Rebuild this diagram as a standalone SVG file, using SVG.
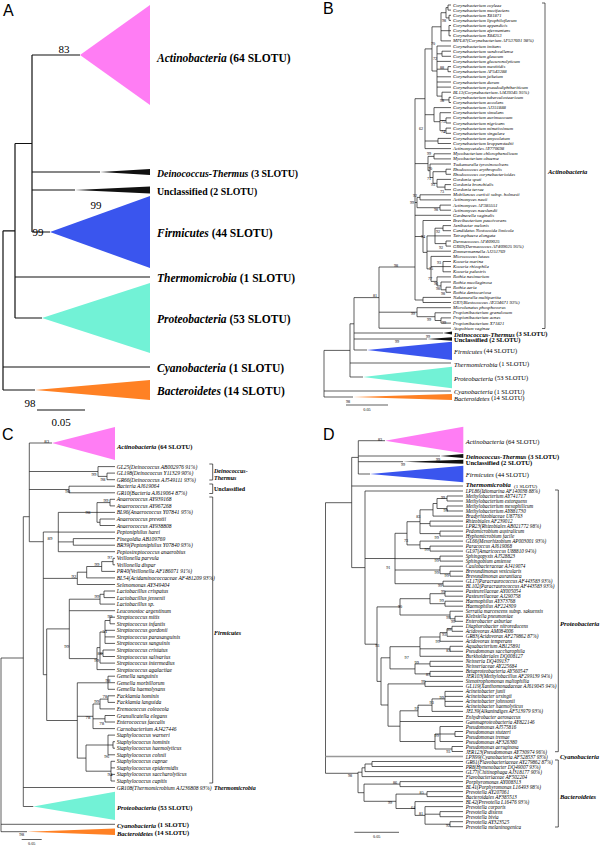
<svg xmlns="http://www.w3.org/2000/svg" width="600" height="845" viewBox="0 0 600 845">
<style>
.ln{fill:none;stroke:#1a1a1a;stroke-width:.7}
.lnA{fill:none;stroke:#111;stroke-width:1.2}
.tb{font-family:"Liberation Serif",serif;font-style:italic;font-size:4.7px;dominant-baseline:central}
.tc{font-family:"Liberation Serif",serif;font-style:italic;font-size:5.5px;dominant-baseline:central}
.td{font-family:"Liberation Serif",serif;font-style:italic;font-size:5.15px;dominant-baseline:central}
.bs{font-family:"Liberation Serif",serif;font-size:4.2px;text-anchor:middle;dominant-baseline:central}
.bsc{font-family:"Liberation Serif",serif;font-size:4.8px;text-anchor:middle;dominant-baseline:central}
.bsA{font-family:"Liberation Serif",serif;font-size:11px;text-anchor:middle;dominant-baseline:central}
.gl{font-family:"Liberation Serif",serif;font-weight:bold;font-size:6.5px;dominant-baseline:central}
.gA{font-family:"Liberation Serif",serif;font-weight:bold;font-size:11.5px;dominant-baseline:central}
.gA2{font-family:"Liberation Serif",serif;font-weight:bold;font-size:9.8px;dominant-baseline:central}
.i{font-style:italic}
.n{font-weight:normal}
.pl{font-family:"Liberation Sans",Arial,sans-serif;font-size:16px}
.sc{font-family:"Liberation Serif",serif;font-size:4.2px;text-anchor:middle}
.pink{fill:#FF7DF4}.blue{fill:#3A55EE}.teal{fill:#72F2D6}.orange{fill:#FF8124}.blk{fill:#111}
</style>
<rect width="600" height="845" fill="#fff"/>

<!-- ================= PANEL A ================= -->
<g id="panelA">
<text class="pl" x="3" y="16">A</text>
<g id="A-connectors">
<path class="lnA" d="M32 55V232M32 55H80M32 172H100M32 190H75M32 232H50M15 143.5V318M15 143.5H32M15 277H150M15 318H42M3 230.8V390M3 230.8H15M3 367H150M3 390H35M37 410H85"/>
</g>
<g id="A-actinobacteria"><polygon class="pink" points="80,55 150,5 150,105"/><text class="bsA" x="64" y="49">83</text><text class="gA" x="157" y="58"><tspan class="i">Actinobacteria</tspan> (64 SLOTU)</text></g>
<g id="A-deinococcus"><polygon class="blk" points="100,172 150,169 150,175"/><text class="bsA" x="96" y="205">99</text><text class="gA2" x="157" y="173"><tspan class="i">Deinococcus-Thermus</tspan> (3 SLOTU)</text></g>
<g id="A-unclassified"><polygon class="blk" points="75,190 150,186.5 150,193.5"/><text class="bsA" x="38" y="232">99</text><text class="gA2" x="157" y="191">Unclassified (2 SLOTU)</text></g>
<g id="A-firmicutes"><polygon class="blue" points="50,232 150,196 150,268"/><text class="gA" x="157" y="233"><tspan class="i">Firmicutes</tspan> (44 SLOTU)</text></g>
<g id="A-thermomicrobia"><text class="gA" x="157" y="278"><tspan class="i">Thermomicrobia</tspan> (1 SLOTU)</text></g>
<g id="A-proteobacteria"><polygon class="teal" points="42,318 150,283 150,353"/><text class="gA" x="157" y="319"><tspan class="i">Proteobacteria</tspan> (53 SLOTU)</text></g>
<g id="A-cyanobacteria"><text class="gA" x="157" y="368"><tspan class="i">Cyanobacteria</tspan> (1 SLOTU)</text></g>
<g id="A-bacteroidetes"><polygon class="orange" points="35,390 150,380 150,400"/><text class="bsA" x="30" y="403">98</text><text class="gA" x="157" y="391"><tspan class="i">Bacteroidetes</tspan> (14 SLOTU)</text></g>
<text class="bsA" x="61" y="422">0.05</text>
</g>

<!-- ================= PANEL B ================= -->
<g id="panelB">
<text class="pl" x="323" y="14">B</text>
<g id="B-connectors">
<path class="ln" d="M448 5V10.1M448 5H451M448 10.1H451M446 7.6H448M449 15.3V20.4M449 15.3H451M449 20.4H451M446 17.9H449M446 7.6V17.9
M449 25.5V35.8M449 25.5H451M449 30.7H451M449 35.8H451
M441 12.7V40.9M441 12.7H446M441 30.7H449M441 40.9H451
M442 51.2V56.3M442 51.2H451M442 56.3H451
M448 66.6V71.7M448 66.6H451M448 71.7H451
M449 97.3V102.5M449 97.3H451M449 102.5H451
M442 92.2V99.9M442 92.2H451M442 99.9H449
M437 46V96.1M437 46H451M437 53.8H442M437 61.4H451M437 69.2H448M437 76.8H451M437 82H451M437 87.1H451M437 96.1H442
M432 26.8V71M432 26.8H441M432 71H437
M446 117.9V123M446 117.9H451M446 123H451
M446 128.1V133.3M446 128.1H451M446 133.3H451
M440 112.7V130.7M440 112.7H451M440 120.5H446M440 130.7H446
M434 107.6V121.7M434 107.6H451M434 121.7H440
M438 138.4V143.5M438 138.4H451M438 143.5H451
M425 48.9V148.6M425 48.9H432M425 114.7H434M425 141H438M425 148.6H451
M434 153.8V158.9M434 153.8H451M434 158.9H451
M446 169.2V174.3M446 169.2H451M446 174.3H451
M445 184.6V189.7M445 184.6H451M445 189.7H451
M437 179.4V187.1M437 179.4H451M437 187.1H445
M433 171.7V183.3M433 171.7H446M433 183.3H437
M430 164V177.5M430 164H451M430 177.5H433
M428 156.4V170.7M428 156.4H434M428 170.7H430
M420 194.8V199.9M420 194.8H451M420 199.9H451
M440 205.1V210.2M440 205.1H451M440 210.2H451
M417 197.4V207.7M417 197.4H420M417 207.7H440
M443 225.6V230.7M443 225.6H451M443 230.7H451
M446 241V246.1M446 241H451M446 246.1H451
M435 228.2V243.6M435 228.2H443M435 235.9H451M435 243.6H446
M443 261.5V271.8M443 261.5H451M443 266.6H451M443 271.8H451
M446 287.2V292.3M446 287.2H451M446 292.3H451
M441 282V289.8M441 282H451M441 289.8H446
M437 276.9V285.9M437 276.9H451M437 285.9H441
M431 256.4V281.4M431 256.4H451M431 266.6H443M431 281.4H437
M427 235.9V268.9M427 235.9H435M427 251.2H451M427 268.9H431
M423 220.5V252.4M423 220.5H451M423 252.4H427
M423 297.4V302.5M423 297.4H451M423 302.5H451
M415 98.7V300M415 98.7H425M415 163.6H428M415 202.5H417M415 215.3H451M415 236.5H423M415 300H423
M441 317.9V323.1M441 317.9H451M441 323.1H451
M435 312.8V320.5M435 312.8H451M435 320.5H441
M417 307.7V316.7M417 307.7H451M417 316.7H435
M379 267V328.2M379 267H415M379 312.2H417M379 328.2H451
M354 297.6V350M354 297.6H379M354 333H443M354 339H427M354 350H367
M350 323.8V377M350 323.8H354M350 363H451M350 377H363
M324 350.4V397M324 350.4H350M324 391H451M324 397H353
M542 3H545V328.5H542
M346 405H388"/>
</g>
<g id="B-actinobacteria">
<text class="tb" x="453" y="5">Corynebacterium coyleae</text>
<text class="tb" x="453" y="10.1">Corynebacterium mucifaciens</text>
<text class="tb" x="453" y="15.3">Corynebacterium X81871</text>
<text class="tb" x="453" y="20.4">Corynebacterium lipophiloflavum</text>
<text class="tb" x="453" y="25.5">Corynebacterium appendicis</text>
<text class="tb" x="453" y="30.7">Corynebacterium afermentans</text>
<text class="tb" x="453" y="35.8">Corynebacterium X84253</text>
<text class="tb" x="453" y="40.9">MPL87(Corynebacterium AF537601 98%)</text>
<text class="tb" x="453" y="46">Corynebacterium imitans</text>
<text class="tb" x="453" y="51.2">Corynebacterium sundsvallense</text>
<text class="tb" x="453" y="56.3">Corynebacterium glaucum</text>
<text class="tb" x="453" y="61.4">Corynebacterium glucuronolyticum</text>
<text class="tb" x="453" y="66.6">Corynebacterium mastitidis</text>
<text class="tb" x="453" y="71.7">Corynebacterium AF543288</text>
<text class="tb" x="453" y="76.8">Corynebacterium jeikeium</text>
<text class="tb" x="453" y="82">Corynebacterium durum</text>
<text class="tb" x="453" y="87.1">Corynebacterium pseudodiphtheriticum</text>
<text class="tb" x="453" y="92.2">BL13(Corynebacterium AJ439345 95%)</text>
<text class="tb" x="453" y="97.3">Corynebacterium tuberculostearicum</text>
<text class="tb" x="453" y="102.5">Corynebacterium accolens</text>
<text class="tb" x="453" y="107.6">Corynebacterium AJ351888</text>
<text class="tb" x="453" y="112.7">Corynebacterium simulans</text>
<text class="tb" x="453" y="117.9">Corynebacterium aurimucosum</text>
<text class="tb" x="453" y="123">Corynebacterium nigricans</text>
<text class="tb" x="453" y="128.1">Corynebacterium minutissimum</text>
<text class="tb" x="453" y="133.3">Corynebacterium singulare</text>
<text class="tb" x="453" y="138.4">Corynebacterium amycolatum</text>
<text class="tb" x="453" y="143.5">Corynebacterium kroppenstedtii</text>
<text class="tb" x="453" y="148.6">Actinomycetales AY770698</text>
<text class="tb" x="453" y="153.8">Mycobacterium chlorophenolicum</text>
<text class="tb" x="453" y="158.9">Mycobacterium obuense</text>
<text class="tb" x="453" y="164">Tsukamurella tyrosinosolvens</text>
<text class="tb" x="453" y="169.2">Rhodococcus erythropolis</text>
<text class="tb" x="453" y="174.3">Rhodococcus corynebacterioides</text>
<text class="tb" x="453" y="179.4">Gordonia sputi</text>
<text class="tb" x="453" y="184.6">Gordonia bronchialis</text>
<text class="tb" x="453" y="189.7">Gordonia terrae</text>
<text class="tb" x="453" y="194.8">Mobiluncus curtisii subsp. holmesii</text>
<text class="tb" x="453" y="199.9">Actinomyces neuii</text>
<text class="tb" x="453" y="205.1">Actinomyces AF385551</text>
<text class="tb" x="453" y="210.2">Actinomyces naeslundii</text>
<text class="tb" x="453" y="215.3">Gardnerella vaginalis</text>
<text class="tb" x="453" y="220.5">Brevibacterium paucivorans</text>
<text class="tb" x="453" y="225.6">Janibacter melonis</text>
<text class="tb" x="453" y="230.7">Candidatus Nostocoida limicola</text>
<text class="tb" x="453" y="235.9">Tetrasphaera elongata</text>
<text class="tb" x="453" y="241">Dermacoccus AF409025</text>
<text class="tb" x="453" y="246.1">GR69(Dermacoccus AF409025 95%)</text>
<text class="tb" x="453" y="251.2">Zimmermannella AJ251769</text>
<text class="tb" x="453" y="256.4">Micrococcus luteus</text>
<text class="tb" x="453" y="261.5">Kocuria marina</text>
<text class="tb" x="453" y="266.6">Kocuria rhizophila</text>
<text class="tb" x="453" y="271.8">Kocuria palustris</text>
<text class="tb" x="453" y="276.9">Rothia nasimurium</text>
<text class="tb" x="453" y="282">Rothia mucilaginosa</text>
<text class="tb" x="453" y="287.2">Rothia aeria</text>
<text class="tb" x="453" y="292.3">Rothia dentocariosa</text>
<text class="tb" x="453" y="297.4">Nakamurella multipartita</text>
<text class="tb" x="453" y="302.5">GR7(Blastococcus AY234671 93%)</text>
<text class="tb" x="453" y="307.7">Microlunatus phosphovorus</text>
<text class="tb" x="453" y="312.8">Propionibacterium granulosum</text>
<text class="tb" x="453" y="317.9">Propionibacterium acnes</text>
<text class="tb" x="453" y="323.1">Propionibacterium X71821</text>
<text class="tb" x="453" y="328.2">Atopobium vaginae</text>
<text class="gl i" x="548" y="171">Actinobacteria</text>
</g>
<g id="B-bootstrap">
<text class="bs" x="444" y="20">98</text><text class="bs" x="433" y="43">70</text><text class="bs" x="435" y="58">72</text><text class="bs" x="442" y="67">88</text><text class="bs" x="442" y="100">98</text>
<text class="bs" x="443" y="121">75</text><text class="bs" x="443" y="131">74</text><text class="bs" x="421" y="128">62</text><text class="bs" x="429" y="153">99</text><text class="bs" x="430" y="168">70</text>
<text class="bs" x="429" y="178">71</text><text class="bs" x="433" y="184">93</text><text class="bs" x="442" y="191">73</text><text class="bs" x="415" y="195">92</text><text class="bs" x="412" y="202">99</text>
<text class="bs" x="436" y="209">98</text><text class="bs" x="438" y="231">92</text><text class="bs" x="423" y="236">94</text><text class="bs" x="441" y="247">92</text><text class="bs" x="439" y="262">93</text>
<text class="bs" x="431" y="268">75</text><text class="bs" x="430" y="278">77</text><text class="bs" x="436" y="283">96</text><text class="bs" x="438" y="288">98</text><text class="bs" x="443" y="293">98</text>
<text class="bs" x="396" y="265">98</text><text class="bs" x="375" y="295">81</text><text class="bs" x="413" y="313">99</text><text class="bs" x="429" y="319">99</text><text class="bs" x="444" y="322">99</text>
<text class="bs" x="428" y="336">99</text><text class="bs" x="397" y="341.5">99</text><text class="bs" x="348" y="401">98</text>
</g>
<g id="B-deinococcus"><polygon class="blk" points="443,333 452,331.5 452,334.5"/><text class="gl" x="454" y="333.5"><tspan class="i">Deinococcus-Thermus</tspan> (3 SLOTU)</text></g>
<g id="B-unclassified"><polygon class="blk" points="427,339 452,337.2 452,340.8"/><text class="gl" x="454" y="339.5">Unclassified (2 SLOTU)</text></g>
<g id="B-firmicutes"><polygon class="blue" points="367,350 452,341.7 452,360"/><text class="gl n" x="454" y="350.5"><tspan class="i">Firmicutes</tspan> (44 SLOTU)</text></g>
<g id="B-thermomicrobia"><text class="gl n" x="454" y="363.5"><tspan class="i">Thermomicrobia</tspan> (1 SLOTU)</text></g>
<g id="B-proteobacteria"><polygon class="teal" points="363,377 452,366.7 452,388.3"/><text class="gl n" x="454" y="377.5"><tspan class="i">Proteobacteria</tspan> (53 SLOTU)</text></g>
<g id="B-cyanobacteria"><text class="gl n" x="454" y="391"><tspan class="i">Cyanobacteria</tspan> (1 SLOTU)</text></g>
<g id="B-bacteroidetes"><polygon class="orange" points="353,397 452,394 452,400"/><text class="gl n" x="454" y="397.5"><tspan class="i">Bacteroidetes</tspan> (14 SLOTU)</text></g>
<text class="sc" x="367" y="411">0.05</text>
</g>

<!-- ================= PANEL C ================= -->
<g id="panelC">
<text class="pl" x="2" y="440">C</text>
<g id="C-connectors">
<path class="ln" d="M29.3 443H52M29.3 443V541.7M29.3 541.7H43.3M23.3 516.7H29.3M23.3 516.7V806.5
M29.3 471.5H98M98 466.6V476.4M98 466.6H115M98 476.4H107M107 473.1V479.7M107 473.1H115M107 479.7H115
M29.3 489.5H69M69 486.2V492.8M69 486.2H115M69 492.8H115
M110 499.3V505.9M110 499.3H115M110 505.9H115M100 519V525.5M100 519H115M100 525.5H115
M97 502.6V522.3M97 502.6H110M97 512.4H115M97 522.3H100
M73.3 538.6V545.2M73.3 538.6H115M73.3 545.2H115
M58.3 512.4V551.7M58.3 512.4H97M58.3 532.1H115M58.3 541.9H73.3M58.3 551.7H115
M113 558.3V564.8M113 558.3H115M113 564.8H115M101.7 561.6V571.4M101.7 561.6H113M101.7 571.4H115
M86.7 566.5V577.9M86.7 566.5H101.7M86.7 577.9H115M77.3 572.2V584.5M77.3 572.2H86.7M77.3 584.5H115
M104 591V597.6M104 591H115M104 597.6H115M100 594.3V604.1M100 594.3H104M100 604.1H115
M110 617.2V623.8M110 617.2H115M110 623.8H115
M105 620.5V643.4M105 620.5H110M105 630.3H115M105 636.9H115M105 643.4H115
M103 650V656.5M103 650H115M103 656.5H115
M100 632V663.1M100 632H105M100 653.3H103M100 663.1H115
M97 647.6V669.6M97 647.6H100M97 669.6H115
M69.3 599.2V658.6M69.3 599.2H100M69.3 610.7H115M69.3 658.6H97
M108 676.2V689.3M108 676.2H115M108 682.7H115M108 689.3H115
M108 695.8V702.4M108 695.8H115M108 702.4H115M100 699.1V708.9M100 699.1H108M100 708.9H115
M105 715.5V722M105 715.5H115M105 722H115
M93 704V728.6M93 704H100M93 718.8H105M93 728.6H115
M113 741.7V748.2M113 741.7H115M113 748.2H115
M108 735.1V754.8M108 735.1H115M108 745H113M108 754.8H115
M111 761.3V781M111 761.3H115M111 767.9H115M111 774.4H115M111 781H115
M86 745V771.2M86 745H108M86 771.2H111
M77.3 682.8V758.1M77.3 682.8H108M77.3 716.3H93M77.3 758.1H86
M46.7 628.9V720.5M46.7 628.9H69.3M46.7 720.5H77.3
M43.3 532V674.7M43.3 532H58.3M43.3 578.4H77.3M43.3 674.7H46.7
M23.3 787.5H115M23.3 806.5H33.3
M1 658V831.7M1 658H23.3M1 824.3H115M1 831.7H27
M209.3 464H212.7V480H209.3M209.3 484H212.7V493.5H209.3M209.3 497H212.7V783H209.3
M21.7 839.5H41.7"/>
</g>
<g id="C-actinobacteria"><polygon class="pink" points="52,443 115,427 115,460"/><text class="gl" x="117" y="446"><tspan class="i">Actinobacteria</tspan> (64 SLOTU)</text></g>
<g id="C-deinococcus">
<text class="tc" x="116.7" y="466.6">GL25(Deinococcus AB002976 91%)</text>
<text class="tc" x="116.7" y="473.1">GL198(Deinococcus Y11329 90%)</text>
<text class="tc" x="116.7" y="479.7">GR66(Deinococcus AJ549111 93%)</text>
<text class="gl i" x="214" y="470.5" style="font-size:6px">Deinococcus-</text>
<text class="gl i" x="214" y="477.5" style="font-size:6px">Thermus</text>
</g>
<g id="C-unclassified">
<text class="tc" x="116.7" y="486.2">Bacteria AJ619064</text>
<text class="tc" x="116.7" y="492.8">GR10(Bacteria AJ619064 87%)</text>
<text class="gl" x="214" y="489.3" style="font-size:6px">Unclassified</text>
</g>
<g id="C-firmicutes">
<text class="tc" x="116.7" y="499.3">Anaerococcus AY939168</text>
<text class="tc" x="116.7" y="505.9">Anaerococcus AY967268</text>
<text class="tc" x="116.7" y="512.4">BL96(Anaerococcus Y07841 95%)</text>
<text class="tc" x="116.7" y="519">Anaerococcus prevotii</text>
<text class="tc" x="116.7" y="525.5">Anaerococcus AY938808</text>
<text class="tc" x="116.7" y="532.1">Peptoniphilus harei</text>
<text class="tc" x="116.7" y="538.6">Finegoldia AB109769</text>
<text class="tc" x="116.7" y="545.2">BR39(Peptoniphilus Y07840 93%)</text>
<text class="tc" x="116.7" y="551.7">Peptostreptococcus anaerobius</text>
<text class="tc" x="116.7" y="558.3">Veillonella parvula</text>
<text class="tc" x="116.7" y="564.8">Veillonella dispar</text>
<text class="tc" x="116.7" y="571.4">PR40(Veillonella AF186071 91%)</text>
<text class="tc" x="116.7" y="577.9">BL54(Acidaminococcaceae AF481209 93%)</text>
<text class="tc" x="116.7" y="584.5">Selenomonas AY349404</text>
<text class="tc" x="116.7" y="591">Lactobacillus crispatus</text>
<text class="tc" x="116.7" y="597.6">Lactobacillus jensenii</text>
<text class="tc" x="116.7" y="604.1">Lactobacillus sp.</text>
<text class="tc" x="116.7" y="610.7">Leuconostoc argentinum</text>
<text class="tc" x="116.7" y="617.2">Streptococcus mitis</text>
<text class="tc" x="116.7" y="623.8">Streptococcus infantis</text>
<text class="tc" x="116.7" y="630.3">Streptococcus gordonii</text>
<text class="tc" x="116.7" y="636.9">Streptococcus parasanguinis</text>
<text class="tc" x="116.7" y="643.4">Streptococcus sanguinis</text>
<text class="tc" x="116.7" y="650">Streptococcus cristatus</text>
<text class="tc" x="116.7" y="656.5">Streptococcus salivarius</text>
<text class="tc" x="116.7" y="663.1">Streptococcus intermedius</text>
<text class="tc" x="116.7" y="669.6">Streptococcus agalactiae</text>
<text class="tc" x="116.7" y="676.2">Gemella sanguinis</text>
<text class="tc" x="116.7" y="682.7">Gemella morbillorum</text>
<text class="tc" x="116.7" y="689.3">Gemella haemolysans</text>
<text class="tc" x="116.7" y="695.8">Facklamia hominis</text>
<text class="tc" x="116.7" y="702.4">Facklamia languida</text>
<text class="tc" x="116.7" y="708.9">Eremococcus coleocola</text>
<text class="tc" x="116.7" y="715.5">Granulicatella elegans</text>
<text class="tc" x="116.7" y="722">Enterococcus faecalis</text>
<text class="tc" x="116.7" y="728.6">Carnobacterium AJ427446</text>
<text class="tc" x="116.7" y="735.1">Staphylococcus warneri</text>
<text class="tc" x="116.7" y="741.7">Staphylococcus hominis</text>
<text class="tc" x="116.7" y="748.2">Staphylococcus haemolyticus</text>
<text class="tc" x="116.7" y="754.8">Staphylococcus cohnii</text>
<text class="tc" x="116.7" y="761.3">Staphylococcus caprae</text>
<text class="tc" x="116.7" y="767.9">Staphylococcus epidermidis</text>
<text class="tc" x="116.7" y="774.4">Staphylococcus saccharolyticus</text>
<text class="tc" x="116.7" y="781">Staphylococcus capitis</text>
<text class="gl i" x="214" y="633" style="font-size:6px">Firmicutes</text>
</g>
<g id="C-thermomicrobia">
<text class="tc" x="116.7" y="787.5">GR108(Thermomicrobium AJ236808 93%)</text>
<text class="gl i" x="214" y="788" style="font-size:6px">Thermomicrobia</text>
</g>
<g id="C-proteobacteria"><polygon class="teal" points="33.3,806.5 115,791.7 115,820"/><text class="gl" x="117" y="807"><tspan class="i">Proteobacteria</tspan> (53 SLOTU)</text></g>
<g id="C-cyanobacteria"><text class="gl" x="117" y="824.5"><tspan class="i">Cyanobacteria</tspan> (1 SLOTU)</text></g>
<g id="C-bacteroidetes"><polygon class="orange" points="27,831.7 115,828.4 115,835"/><text class="gl" x="117" y="832.5"><tspan class="i">Bacteroidetes</tspan> (14 SLOTU)</text></g>
<g id="C-bootstrap">
<text class="bsc" x="46.7" y="441.5">83</text><text class="bsc" x="94" y="474">99</text><text class="bsc" x="103" y="479.5">98</text><text class="bsc" x="67.7" y="491.5">98</text>
<text class="bsc" x="106" y="500">99</text><text class="bsc" x="88" y="512">98</text><text class="bsc" x="50" y="538">89</text><text class="bsc" x="110" y="557">97</text>
<text class="bsc" x="97" y="564">99</text><text class="bsc" x="74" y="576.5">92</text><text class="bsc" x="97" y="596">99</text><text class="bsc" x="110" y="616.5">99</text>
<text class="bsc" x="105" y="631">51</text><text class="bsc" x="100" y="653">80</text><text class="bsc" x="96.7" y="660.7">99</text><text class="bsc" x="66.7" y="646">99</text>
<text class="bsc" x="108" y="680">98</text><text class="bsc" x="105" y="696.7">78</text><text class="bsc" x="96.7" y="701.7">99</text><text class="bsc" x="88" y="717.7">78</text>
<text class="bsc" x="101.7" y="723">78</text><text class="bsc" x="106.7" y="756.7">96</text><text class="bsc" x="110" y="774">94</text><text class="bsc" x="21.7" y="834.5">98</text>
</g>
<text class="sc" x="31.7" y="844.5">0.05</text>
</g>

<!-- ================= PANEL D ================= -->
<g id="panelD">
<text class="pl" x="323" y="440">D</text>
<g id="D-connectors">
<path class="ln" d="M358.3 440.7V474M358.3 440.7H385M358.3 456H440M358.3 461.7H403M358.3 474H370
M351.7 457.4H358.3M351.7 457.4V567.6M351.7 486H463M351.7 567.6H365
M325.5 502.7V773.3M325.5 502.7H351.7M325.5 773.3H358
M365 491V644.2M365 491H463M365 558.5H395M365 644.2H377
M395 533.3V583.7M395 533.3H407M395 558.6H440M395 570H440M395 583.7H443
M407 521.7V544.9M407 521.7H420M407 544.9H420
M420 509.8V533.6M420 509.8H433M420 523.6H430M420 533.6H440
M433 503.5V516.1M433 503.5H437M433 516.1H463
M437 498.5V508.5M437 498.5H447M437 508.5H447
M447 496V501M447 496H463M447 501H463M447 506V511M447 506H463M447 511H463
M430 521.1V526.1M430 521.1H463M430 526.1H463
M440 531.1V536.1M440 531.1H463M440 536.1H463
M420 541.1V548.6M420 541.1H463M420 548.6H430
M430 546.1V551.1M430 546.1H463M430 551.1H463
M440 556.1V561.1M440 556.1H463M440 561.1H463
M440 566.2V573.7M440 566.2H463M440 573.7H450
M450 571.2V576.2M450 571.2H463M450 576.2H463
M443 581.2V586.2M443 581.2H463M443 586.2H463
M377 606.9V681.4M377 606.9H400M377 681.4H381
M400 598.7V615M400 598.7H430M400 615H450
M430 593.7V603.7M430 593.7H445M430 603.7H445
M445 591.2V596.2M445 591.2H463M445 596.2H463M445 601.2V606.2M445 601.2H463M445 606.2H463
M450 611.2V618.8M450 611.2H463M450 618.8H455
M455 616.3V621.3M455 616.3H463M455 621.3H463
M381 657.8V705M381 657.8H390M381 705H388
M390 646.7V668.9M390 646.7H420M390 668.9H415
M420 637V656.3M420 637H440M420 648.8H450M420 656.3H463
M440 632.6V641.3M440 632.6H447M440 641.3H463
M447 628.8V636.3M447 628.8H452M447 636.3H463
M452 626.3V631.3M452 626.3H463M452 631.3H463
M450 646.3V651.3M450 646.3H463M450 651.3H463
M415 663.9V673.9M415 663.9H430M415 673.9H430
M430 661.3V666.4M430 661.3H463M430 666.4H463M430 671.4V676.4M430 671.4H463M430 676.4H463
M388 683.9V726.2M388 683.9H425M388 726.2H400
M425 681.4V686.4M425 681.4H463M425 686.4H463
M400 710.8V741.5M400 710.8H418M400 721.5H463M400 741.5H435
M418 705.2V716.5M418 705.2H432M418 716.5H463
M432 698.9V711.4M432 698.9H445M432 711.4H463
M445 691.4V706.4M445 691.4H463M445 696.4H463M445 701.4H463M445 706.4H463
M435 734V749M435 734H440M435 749H452
M440 726.5V741.5M440 726.5H463M440 734H455M440 741.5H463
M455 731.5V736.5M455 731.5H463M455 736.5H463
M452 746.5V751.5M452 746.5H463M452 751.5H463
M358 772.2V792.7M358 772.2H362M358 792.7H364
M362 767.8V776.6M362 767.8H365M362 776.6H463
M365 764V771.6M365 764H372M365 771.6H463
M372 761.5V766.5M372 761.5H463M372 766.5H463
M364 784.1V801.3M364 784.1H400M364 801.3H396
M400 781.6V786.6M400 781.6H463M400 786.6H463
M396 794.1V808.5M396 794.1H427M396 808.5H415
M427 791.6V796.6M427 791.6H463M427 796.6H463
M415 801.6V815.4M415 801.6H463M415 815.4H425
M425 806.6V824.2M425 806.6H463M425 814.2H440M425 824.2H450
M440 811.6V816.7M440 811.6H463M440 816.7H463
M450 821.7V826.7M450 821.7H463M450 826.7H463
M555 490H558.3V751.7H555M555 760H558.3V827H555
M354.3 832.3H399"/>
<path d="M325.5 756.5H463" fill="none" stroke="#999" stroke-width="1.4"/>
</g>
<g id="D-actinobacteria"><polygon class="pink" points="385,440.7 463.3,426.7 463.3,453.3"/><text class="gl n" x="465.7" y="441"><tspan class="i">Actinobacteria</tspan> (64 SLOTU)</text></g>
<g id="D-deinococcus"><polygon class="blk" points="440,456 463.3,454 463.3,458"/><text class="gl" x="465.7" y="456"><tspan class="i">Deinococcus-Thermus</tspan> (3 SLOTU)</text></g>
<g id="D-unclassified"><polygon class="blk" points="403,461.7 463.3,459.7 463.3,463.7"/><text class="gl" x="465.7" y="462">Unclassified (2 SLOTU)</text></g>
<g id="D-firmicutes"><polygon class="blue" points="370,474 463.3,465.7 463.3,482.3"/><text class="gl n" x="465.7" y="474"><tspan class="i">Firmicutes</tspan> (44 SLOTU)</text></g>
<g id="D-thermomicrobia"><text class="gl i" x="465.7" y="484.8">Thermomicrobia</text><text class="gl n" x="514" y="486.8" style="font-size:5px">(1 SLOTU)</text></g>
<g id="D-proteobacteria">
<text class="td" x="465.7" y="491.3">LPL86(Idiomarina AF140038 88%)</text>
<text class="td" x="465.7" y="496">Methylobacterium AY741717</text>
<text class="td" x="465.7" y="501">Methylobacterium extorquens</text>
<text class="td" x="465.7" y="506">Methylobacterium mesophilicum</text>
<text class="td" x="465.7" y="511">Methylobacterium AY881730</text>
<text class="td" x="465.7" y="516.1">Bradyrhizobiaceae U87763</text>
<text class="td" x="465.7" y="521.1">Rhizobiales AF239012</text>
<text class="td" x="465.7" y="526.1">LPR23(Rhizobiales AB021772 98%)</text>
<text class="td" x="465.7" y="531.1">Pedomicrobium australicum</text>
<text class="td" x="465.7" y="536.1">Hyphomicrobium facile</text>
<text class="td" x="465.7" y="541.1">GL66(Mesorhizobium AP003001 93%)</text>
<text class="td" x="465.7" y="546.1">Paracoccus AJ619068</text>
<text class="td" x="465.7" y="551.1">GL97(Amaricoccus U88810 94%)</text>
<text class="td" x="465.7" y="556.1">Sphingopyxis AJ528823</text>
<text class="td" x="465.7" y="561.1">Sphingobium amiense</text>
<text class="td" x="465.7" y="566.2">Caulobacteraceae AJ419074</text>
<text class="td" x="465.7" y="571.2">Brevundimonas vesicularis</text>
<text class="td" x="465.7" y="576.2">Brevundimonas aurantiaca</text>
<text class="td" x="465.7" y="581.2">GL17(Paracraurococcus AF443583 93%)</text>
<text class="td" x="465.7" y="586.2">BL102(Paracraurococcus AF443583 93%)</text>
<text class="td" x="465.7" y="591.2">Pasteurellaceae AY005054</text>
<text class="td" x="465.7" y="596.2">Pasteurellaceae AJ290758</text>
<text class="td" x="465.7" y="601.2">Haemophilus AY373768</text>
<text class="td" x="465.7" y="606.2">Haemophilus AF224309</text>
<text class="td" x="465.7" y="611.2">Serratia marcescens subsp. sakuensis</text>
<text class="td" x="465.7" y="616.3">Klebsiella pneumoniae</text>
<text class="td" x="465.7" y="621.3">Enterobacter asburiae</text>
<text class="td" x="465.7" y="626.3">Diaphorobacter nitroreducens</text>
<text class="td" x="465.7" y="631.3">Acidovorax AM084006</text>
<text class="td" x="465.7" y="636.3">GR83(Acidovorax AF279862 87%)</text>
<text class="td" x="465.7" y="641.3">Acidovorax temperans</text>
<text class="td" x="465.7" y="646.3">Aquabacterium AB125891</text>
<text class="td" x="465.7" y="651.3">Pseudomonas saccharophila</text>
<text class="td" x="465.7" y="656.3">Burkholderiales DQ008127</text>
<text class="td" x="465.7" y="661.3">Neisseria DQ409137</text>
<text class="td" x="465.7" y="666.4">Neisseriaceae AY225684</text>
<text class="td" x="465.7" y="671.4">Betaproteobacteria AY560547</text>
<text class="td" x="465.7" y="676.4">JER103(Methylobacillus AF299139 94%)</text>
<text class="td" x="465.7" y="681.4">Stenotrophomonas maltophilia</text>
<text class="td" x="465.7" y="686.4">GL119(Xanthomonadaceae AJ619045 94%)</text>
<text class="td" x="465.7" y="691.4">Acinetobacter junii</text>
<text class="td" x="465.7" y="696.4">Acinetobacter ursingii</text>
<text class="td" x="465.7" y="701.4">Acinetobacter johnsonii</text>
<text class="td" x="465.7" y="706.4">Acinetobacter haemolyticus</text>
<text class="td" x="465.7" y="711.4">JEL39(Alkanindiges AF513979 93%)</text>
<text class="td" x="465.7" y="716.5">Enhydrobacter aerosaccus</text>
<text class="td" x="465.7" y="721.5">Gammaproteobacteria AY822146</text>
<text class="td" x="465.7" y="726.5">Pseudomonas AJ575816</text>
<text class="td" x="465.7" y="731.5">Pseudomonas stutzeri</text>
<text class="td" x="465.7" y="736.5">Pseudomonas tremae</text>
<text class="td" x="465.7" y="741.5">Pseudomonas AF326380</text>
<text class="td" x="465.7" y="746.5">Pseudomonas aeruginosa</text>
<text class="td" x="465.7" y="751.5">JER123(Pseudomonas AY730974 96%)</text>
<text class="gl i" x="560" y="623">Proteobacteria</text>
</g>
<g id="D-cyanobacteria">
<text class="td" x="465.7" y="756.5">LPN99(Cyanobacteria AF528537 93%)</text>
<text class="gl i" x="560" y="756.5">Cyanobacteria</text>
</g>
<g id="D-bacteroidetes">
<text class="td" x="465.7" y="761.5">GR61(Flavobacteriaceae AY279862 87%)</text>
<text class="td" x="465.7" y="766.5">PR8(Hymenobacter DQ49007 93%)</text>
<text class="td" x="465.7" y="771.6">GL77(Chitinophaga AJ318177 90%)</text>
<text class="td" x="465.7" y="776.6">Flavobacteriaceae AF502204</text>
<text class="td" x="465.7" y="781.6">Porphyromonas AY008313</text>
<text class="td" x="465.7" y="786.6">BL41(Porphyromonas L16493 98%)</text>
<text class="td" x="465.7" y="791.6">Prevotella AY207061</text>
<text class="td" x="465.7" y="796.6">Bacteroidales AF385513</text>
<text class="td" x="465.7" y="801.6">BL42(Prevotella L16476 93%)</text>
<text class="td" x="465.7" y="806.6">Prevotella corporis</text>
<text class="td" x="465.7" y="811.6">Prevotella disiens</text>
<text class="td" x="465.7" y="816.7">Prevotella bivia</text>
<text class="td" x="465.7" y="821.7">Prevotella AY323525</text>
<text class="td" x="465.7" y="826.7">Prevotella melaninogenica</text>
<text class="gl i" x="560" y="796.5">Bacteroidetes</text>
</g>
<g id="D-bootstrap">
<text class="bs" x="380" y="439">83</text><text class="bs" x="438" y="459">99</text><text class="bs" x="403" y="464.5">99</text><text class="bs" x="443" y="497.3">99</text>
<text class="bs" x="445.7" y="510">99</text><text class="bs" x="418.3" y="516">83</text><text class="bs" x="436.7" y="537">99</text><text class="bs" x="406" y="540">73</text>
<text class="bs" x="426.7" y="549">99</text><text class="bs" x="436.7" y="560">99</text><text class="bs" x="388.3" y="567.7">91</text><text class="bs" x="436.7" y="572.7">99</text>
<text class="bs" x="446.7" y="575.7">99</text><text class="bs" x="440" y="585.7">99</text><text class="bs" x="443" y="591.7">99</text><text class="bs" x="441.7" y="600">99</text>
<text class="bs" x="400" y="606">90</text><text class="bs" x="448.3" y="617.3">99</text><text class="bs" x="453" y="621.7">99</text><text class="bs" x="449" y="629">99</text>
<text class="bs" x="444" y="634">93</text><text class="bs" x="437.7" y="641.7">99</text><text class="bs" x="448.3" y="650.7">83</text><text class="bs" x="377.3" y="645">93</text>
<text class="bs" x="406.7" y="657.7">97</text><text class="bs" x="416.7" y="662.3">99</text><text class="bs" x="428" y="674">87</text><text class="bs" x="423.3" y="681">99</text>
<text class="bs" x="441.7" y="697.7">99</text><text class="bs" x="431.7" y="702.7">93</text><text class="bs" x="416.7" y="708.3">97</text><text class="bs" x="436.7" y="735">99</text>
<text class="bs" x="448.3" y="751">93</text><text class="bs" x="350" y="775.5">98</text><text class="bs" x="395" y="782.3">86</text><text class="bs" x="421.7" y="792.3">85</text>
<text class="bs" x="390" y="802.7">99</text><text class="bs" x="413" y="807.7">64</text><text class="bs" x="421" y="813.7">81</text><text class="bs" x="448" y="825">92</text>
</g>
<text class="sc" x="376.7" y="838">0.05</text>
</g>
</svg>
